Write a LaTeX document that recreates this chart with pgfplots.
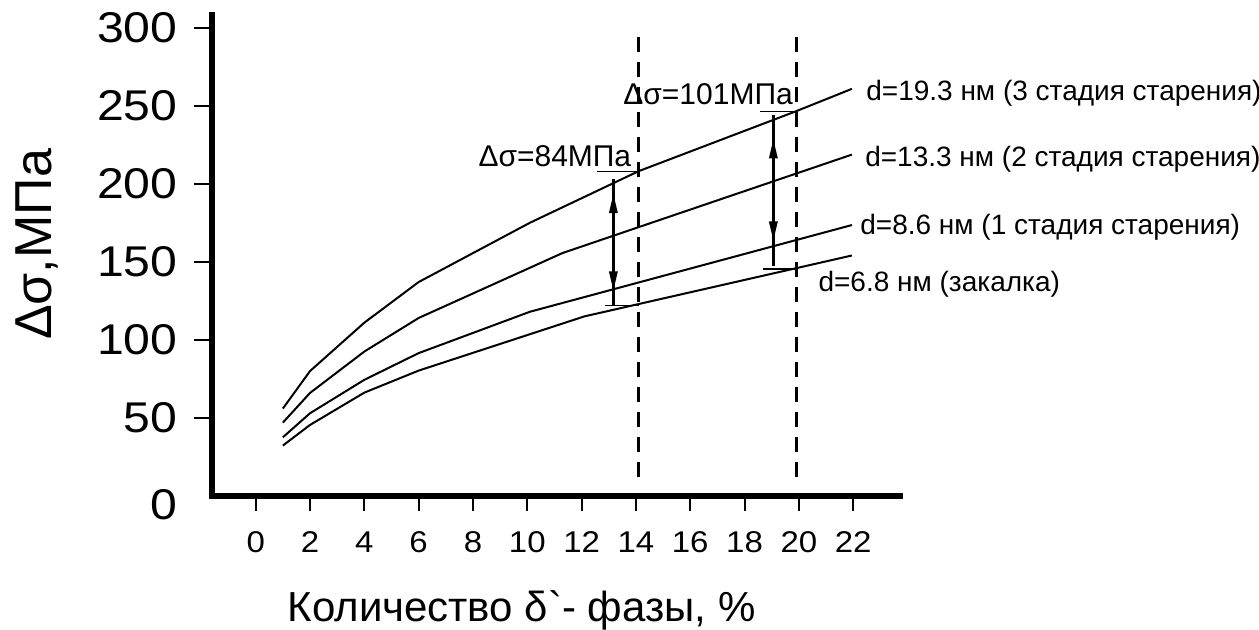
\documentclass[border=0pt]{standalone}
\usepackage{fontspec}
\setmainfont{Liberation Sans}
\usepackage{pgfplots}
\pgfplotsset{compat=1.18}
\usetikzlibrary{arrows.meta}
\newcommand\fs[1]{\fontsize{#1}{#1}\selectfont}

\begin{document}
\begin{tikzpicture}
\useasboundingbox (0,0) rectangle (629.5pt,314.5pt);
\begin{axis}[
    at={(106pt,66.5pt)}, anchor=south west,
    scale only axis, width=344pt, height=240.5pt,
    xmin=-1.609, xmax=23.723, ymin=0, ymax=308,
    axis x line=bottom, axis y line=left,
    axis line style={-, line width=3pt, line cap=rect},
    xtick={0,2,...,22}, ytick={50,100,...,300},
    tick align=outside,
    major tick length=9pt,
    tick style={black, line width=1pt},
    xtick style={/pgfplots/major tick length=7.5pt},
    /pgf/number format/assume math mode=true,
    xticklabel style={font=\fs{15pt}, anchor=north, inner sep=0pt, yshift=-8.5pt, xscale=1.1},
    yticklabel style={font=\fs{21.5pt}, anchor=east, inner sep=0pt, xshift=-8pt, xscale=1.12},
    clip=false,
]
% d=19.3 nm
\addplot[black, line width=1pt] coordinates {
  (1,56) (2,80) (4,111) (6,137) (10.1,175) (14.1,208) (19.9,246.4) (21.95,260.7)
};
% d=13.3 nm
\addplot[black, line width=1pt] coordinates {
  (1,47) (2,66) (4,92.5) (6,114) (11.3,155.6) (21.95,218.6)
};
% d=8.6 nm
\addplot[black, line width=1pt] coordinates {
  (1,37.6) (2,53) (4,74.4) (6,91.5) (10.1,118) (21.95,173.5)
};
% d=6.8 nm
\addplot[black, line width=1pt] coordinates {
  (1,32.3) (2,45.5) (4,66.2) (6,80.3) (12.1,115) (21.95,154)
};

% dashed guides
\addplot[black, line width=1.5pt, dash pattern=on 7.5pt off 5pt] coordinates {(14.1,294) (14.1,6)};
\addplot[black, line width=1.5pt, dash pattern=on 7.5pt off 5pt] coordinates {(19.93,294) (19.93,6)};

% brackets
\addplot[black, line width=0.7pt] coordinates {(12.55,207.9) (14.1,207.9)};
\addplot[black, line width=0.7pt] coordinates {(12.86,121.8) (14.1,121.8)};
\addplot[black, line width=0.7pt] coordinates {(18.57,246.4) (19.93,246.4)};
\addplot[black, line width=0.7pt] coordinates {(18.69,145.3) (19.93,145.3)};

% arrows
\addplot[black, line width=1.5pt] coordinates {(13.17,203) (13.17,122)};
\addplot[black, line width=1.5pt, -{Triangle[length=10pt,width=4pt]}] coordinates {(13.17,170) (13.17,194)};
\addplot[black, line width=1.5pt, -{Triangle[length=10pt,width=4pt]}] coordinates {(13.17,155) (13.17,131)};
\addplot[black, line width=1.5pt] coordinates {(19.06,244) (19.06,147)};
\addplot[black, line width=1.5pt, -{Triangle[length=10pt,width=4pt]}] coordinates {(19.06,205) (19.06,229)};
\addplot[black, line width=1.5pt, -{Triangle[length=10pt,width=4pt]}] coordinates {(19.06,187) (19.06,163)};

\node[anchor=base east, inner sep=0pt, font=\fs{15pt}] at (axis cs:13.84,211) {Δσ=84МПа};
\node[anchor=base east, inner sep=0pt, font=\fs{15pt}] at (axis cs:19.79,250.6) {Δσ=101МПа};

\node[anchor=base west, inner sep=0pt, font=\fs{14pt}] at (axis cs:22.47,253) {d=19.3 нм (3 стадия старения)};
\node[anchor=base west, inner sep=0pt, font=\fs{14pt}] at (axis cs:22.43,211) {d=13.3 нм (2 стадия старения)};
\node[anchor=base west, inner sep=0pt, font=\fs{14pt}] at (axis cs:22.25,167.3) {d=8.6 нм (1 стадия старения)};
\node[anchor=base west, inner sep=0pt, font=\fs{14pt}] at (axis cs:20.71,131) {d=6.8 нм (закалка)};
\end{axis}
\node[anchor=east, inner sep=0pt, font=\fs{21.5pt}, xscale=1.12] at (89pt,62pt) {0};
\node[anchor=base, inner sep=0pt, rotate=90, font=\fs{26pt}] at (25.85pt,192.25pt) {Δσ,МПа};
\node[anchor=base, inner sep=0pt, font=\fs{21pt}] at (260.75pt,3.65pt) {Количество δ\textasciigrave- фазы, \%};
\end{tikzpicture}
\end{document}
